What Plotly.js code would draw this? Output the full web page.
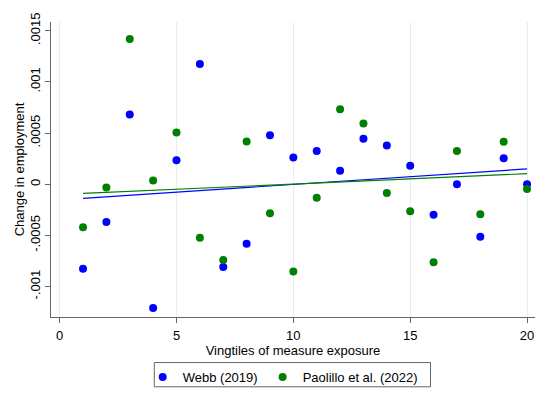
<!DOCTYPE html>
<html>
<head>
<meta charset="utf-8">
<script src="https://cdn.plot.ly/plotly-3.0.1.min.js"></script>
<style>html,body{margin:0;padding:0;background:#fff;}#chart{width:546px;height:403px;}</style>
</head>
<body>
<div id="chart"></div>
<script>
var vingtiles = [1,2,3,4,5,6,7,8,9,10,11,12,13,14,15,16,17,18,19,20];
var webb = [-0.000826,-0.000370,0.000682,-0.001209,0.000235,0.001174,-0.000810,-0.000582,0.000479,0.000260,
            0.000325,0.000132,0.000444,0.000379,0.000180,-0.000299,0.000000,-0.000514,0.000254,0.000000];
var paolillo = [-0.000421,-0.000032,0.001418,0.000035,0.000505,-0.000524,-0.000740,0.000418,-0.000283,-0.000852,
                -0.000132,0.000733,0.000592,-0.000087,-0.000264,-0.000762,0.000325,-0.000293,0.000415,-0.000048];
// fitted lines as drawn in the reference (endpoints at vingtile 1 and 20)
var fitX = [1, 20];
var webbFit = [-0.000138, 0.000149];
var paolilloFit = [-0.000090, 0.000103];
var yTickVals = [-0.001,-0.0005,0,0.0005,0.001,0.0015];
var yTickText = ["-.001","-.0005","0",".0005",".001",".0015"];
var xTickVals = [0,5,10,15,20];
var seriesNames = ["Webb (2019)","Paolillo et al. (2022)"];

var blue = '#0000ff', green = '#008000';
var traces = [
  {x: fitX, y: webbFit, type: 'scatter', mode: 'lines', showlegend: false,
   line: {color: blue, width: 1.2}, hoverinfo: 'skip'},
  {x: fitX, y: paolilloFit, type: 'scatter', mode: 'lines', showlegend: false,
   line: {color: green, width: 1.2}, hoverinfo: 'skip'},
  {x: vingtiles, y: webb, type: 'scatter', mode: 'markers', name: seriesNames[0],
   marker: {color: blue, size: 8, line: {width: 0}}},
  {x: vingtiles, y: paolillo, type: 'scatter', mode: 'markers', name: seriesNames[1],
   marker: {color: green, size: 8, line: {width: 0}}}
];

var layout = {
  width: 546, height: 403,
  paper_bgcolor: '#fff', plot_bgcolor: '#fff',
  margin: {l: 51, r: 11, t: 22, b: 83, pad: 0},
  font: {family: 'Liberation Sans, Arial, sans-serif', size: 13, color: '#000'},
  showlegend: true,
  xaxis: {
    range: [-0.37, 20.34], tickvals: xTickVals, ticktext: xTickVals.map(String),
    showgrid: true, gridcolor: '#e6efef', gridwidth: 1, zeroline: false,
    showline: true, linecolor: '#666', linewidth: 1.2,
    ticks: 'outside', ticklen: 5, tickcolor: '#666', tickwidth: 1,
    ticklabelstandoff: 1,
    tickfont: {size: 13},
    title: {text: 'Vingtiles of measure exposure', font: {size: 13}, standoff: 3}
  },
  yaxis: {
    range: [-0.0012976, 0.001585], tickvals: yTickVals, ticktext: yTickText,
    tickangle: -90,
    showgrid: false, zeroline: false,
    showline: true, linecolor: '#666', linewidth: 1.2,
    ticks: 'outside', ticklen: 5, tickcolor: '#666', tickwidth: 1,
    tickfont: {size: 13},
    title: {text: 'Change in employment', font: {size: 13}, standoff: 0}
  },
  legend: {
    orientation: 'h', x: 0.1895, xanchor: 'left', y: -0.1527, yanchor: 'top',
    borderwidth: 0, bgcolor: 'rgba(0,0,0,0)',
    font: {size: 13}, itemwidth: 30, traceorder: 'normal'
  },
  shapes: [{
    type: 'rect', xref: 'paper', yref: 'paper',
    x0: 0.2134, x1: 0.7841, y0: -0.2366, y1: -0.1544,
    line: {color: '#666', width: 1}, fillcolor: 'rgba(0,0,0,0)', layer: 'above'
  }]
};

Plotly.newPlot('chart', traces, layout, {staticPlot: true, displayModeBar: false});
</script>
</body>
</html>
